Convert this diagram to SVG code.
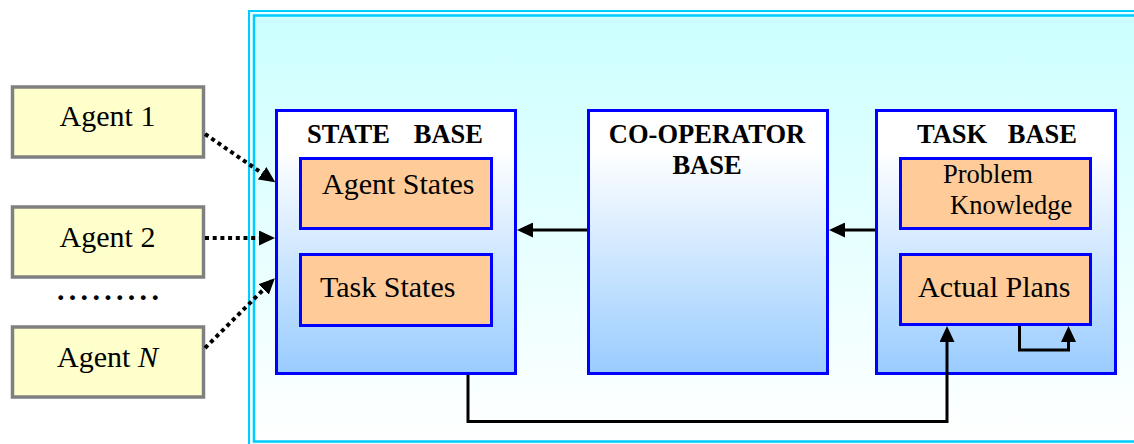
<svg xmlns="http://www.w3.org/2000/svg" width="1134" height="444" viewBox="0 0 1134 444">
  <style>
    .agent { fill: #FFFFCC; stroke: #808080; stroke-width: 3.5; }
    .base { stroke: #0000FF; stroke-width: 3; fill: url(#baseFill); }
    .part { fill: #FFCC99; stroke: #0000FF; stroke-width: 3; }
    .lbl { font-size: 30px; }
    .sm { font-size: 26.5px; }
    .hd { font-size: 26.5px; font-weight: bold; }
    .flow { fill: none; stroke: #000; stroke-width: 3; }
    .dotted { fill: none; stroke: #000; stroke-width: 4; stroke-dasharray: 4 3.7; }
  </style>
  <defs>
    <linearGradient id="frameFill" x1="0" y1="0" x2="0" y2="1">
      <stop offset="0" stop-color="#CCFFFF"/>
      <stop offset="1" stop-color="#FFFFFF"/>
    </linearGradient>
    <linearGradient id="baseFill" x1="0" y1="0" x2="0" y2="1">
      <stop offset="0" stop-color="#FFFFFF"/>
      <stop offset="0.15" stop-color="#FFFFFF"/>
      <stop offset="1" stop-color="#99CCFF"/>
    </linearGradient>
    <marker id="head" markerUnits="userSpaceOnUse" markerWidth="16" markerHeight="15" refX="12" refY="7.5" orient="auto">
      <path d="M0,0 L16,7.5 L0,15 z" fill="#000"/>
    </marker>
  </defs>

  <!-- double-lined system frame -->
  <g id="frame">
    <rect x="249" y="11" width="900" height="450" fill="#E6FFFF" stroke="#00CCFF" stroke-width="2"/>
    <rect x="254" y="15.5" width="900" height="426" fill="url(#frameFill)" stroke="#00CCFF" stroke-width="2.5"/>
  </g>

  <!-- agents -->
  <g id="agent1">
    <rect class="agent" x="12.5" y="87" width="191" height="70"/>
    <text font-family="Liberation Serif" class="lbl" x="107.5" y="126" text-anchor="middle">Agent 1</text>
  </g>
  <g id="agent2">
    <rect class="agent" x="12.5" y="207" width="191" height="70"/>
    <text font-family="Liberation Serif" class="lbl" x="107.5" y="247" text-anchor="middle">Agent 2</text>
  </g>
  <g id="ellipsis">
    <text font-family="Liberation Serif" class="lbl" x="57" y="300" font-weight="bold" letter-spacing="4.3">.........</text>
  </g>
  <g id="agentN">
    <rect class="agent" x="12.5" y="327" width="191" height="70"/>
    <text font-family="Liberation Serif" class="lbl" x="107.5" y="367" text-anchor="middle">Agent <tspan font-style="italic">N</tspan></text>
  </g>

  <!-- state base -->
  <g id="stateBase">
    <rect class="base" x="276.5" y="110.5" width="239" height="263"/>
    <text font-family="Liberation Serif" class="hd" x="307" y="143">STATE</text>
    <text font-family="Liberation Serif" class="hd" x="483" y="143" text-anchor="end">BASE</text>
  </g>
  <g id="agentStates">
    <rect class="part" x="300.5" y="158.5" width="191" height="70"/>
    <text font-family="Liberation Serif" class="lbl" x="322" y="194">Agent States</text>
  </g>
  <g id="taskStates">
    <rect class="part" x="300.5" y="254.5" width="191" height="71"/>
    <text font-family="Liberation Serif" class="lbl" x="320" y="297">Task States</text>
  </g>

  <!-- co-operator base -->
  <g id="cooperatorBase">
    <rect class="base" x="588.5" y="110.5" width="239" height="263"/>
    <text font-family="Liberation Serif" class="hd" x="707" y="143" text-anchor="middle">CO-OPERATOR</text>
    <text font-family="Liberation Serif" class="hd" x="707" y="174" text-anchor="middle">BASE</text>
  </g>

  <!-- task base -->
  <g id="taskBase">
    <rect class="base" x="876.5" y="110.5" width="239" height="263"/>
    <text font-family="Liberation Serif" class="hd" x="917" y="143">TASK</text>
    <text font-family="Liberation Serif" class="hd" x="1077" y="143" text-anchor="end">BASE</text>
  </g>
  <g id="problemKnowledge">
    <rect class="part" x="900.5" y="158.5" width="190" height="70"/>
    <text font-family="Liberation Serif" class="sm" x="943" y="183">Problem</text>
    <text font-family="Liberation Serif" class="sm" x="950" y="214">Knowledge</text>
  </g>
  <g id="actualPlans">
    <rect class="part" x="900.5" y="254.5" width="190" height="70"/>
    <text font-family="Liberation Serif" class="lbl" x="918" y="297">Actual Plans</text>
  </g>

  <!-- connectors -->
  <g id="connectors">
    <line class="dotted" x1="205" y1="134" x2="272" y2="180" marker-end="url(#head)"/>
    <line class="dotted" x1="205" y1="238" x2="271" y2="238" marker-end="url(#head)"/>
    <line class="dotted" x1="205" y1="348" x2="272" y2="281" marker-end="url(#head)"/>
    <line class="flow" x1="587" y1="230" x2="521" y2="230" marker-end="url(#head)"/>
    <line class="flow" x1="875" y1="230" x2="833" y2="230" marker-end="url(#head)"/>
    <polyline class="flow" points="468,375 468,421.5 947,421.5 947,330" marker-end="url(#head)"/>
    <polyline class="flow" points="1019.5,326 1019.5,350 1068.5,350 1068.5,330" marker-end="url(#head)"/>
  </g>
</svg>
